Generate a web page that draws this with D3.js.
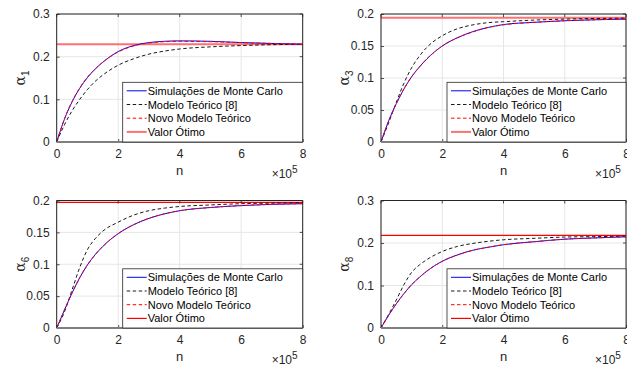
<!DOCTYPE html>
<html>
<head>
<meta charset="utf-8">
<script src="https://cdn.jsdelivr.net/npm/d3@7"></script>
<style>
  body { margin: 0; background: #fff; }
  svg { display: block; font-family: "Liberation Sans", Arial, Helvetica, sans-serif; }
</style>
</head>
<body>
<div id="chart"></div>
<script>
// n in units of 1e5
const nVals = [0, 0.25, 0.5, 0.75, 1, 1.25, 1.5, 2, 2.5, 3, 3.5, 4, 5, 6, 7, 8];

const seriesNames = ["Simulações de Monte Carlo", "Modelo Teórico [8]", "Novo Modelo Teórico", "Valor Ótimo"];
const xTicks = [0, 2, 4, 6, 8];

// alpha_1
const mc1 = [0, 0.053, 0.094, 0.126, 0.151, 0.171, 0.187, 0.212, 0.226, 0.233, 0.236, 0.237, 0.236, 0.233, 0.231, 0.229];
const mt1 = [0, 0.040, 0.073, 0.100, 0.123, 0.142, 0.157, 0.180, 0.195, 0.206, 0.213, 0.218, 0.223, 0.226, 0.228, 0.229];
const nm1 = [0, 0.054, 0.095, 0.127, 0.152, 0.171, 0.187, 0.211, 0.225, 0.232, 0.235, 0.236, 0.235, 0.233, 0.231, 0.229];
const opt1 = 0.229;

// alpha_3
const mc3 = [0, 0.033, 0.060, 0.083, 0.102, 0.117, 0.130, 0.150, 0.163, 0.1725, 0.179, 0.1835, 0.187, 0.1895, 0.191, 0.192];
const mt3 = [0, 0.030, 0.062, 0.092, 0.116, 0.134, 0.148, 0.166, 0.177, 0.183, 0.1865, 0.188, 0.1905, 0.192, 0.193, 0.1935];
const nm3 = [0, 0.033, 0.060, 0.083, 0.102, 0.117, 0.130, 0.150, 0.163, 0.172, 0.179, 0.183, 0.187, 0.1895, 0.191, 0.192];
const opt3 = 0.194;

// alpha_6
const mc6 = [0, 0.028, 0.055, 0.079, 0.099, 0.115, 0.128, 0.148, 0.162, 0.172, 0.179, 0.184, 0.189, 0.192, 0.194, 0.195];
const mt6 = [0, 0.025, 0.060, 0.095, 0.123, 0.140, 0.152, 0.166, 0.177, 0.184, 0.188, 0.1906, 0.193, 0.195, 0.1958, 0.1963];
const nm6 = [0, 0.028, 0.055, 0.079, 0.099, 0.115, 0.128, 0.148, 0.162, 0.172, 0.179, 0.184, 0.189, 0.192, 0.194, 0.195];
const opt6 = 0.197;

// alpha_8
const mc8 = [0, 0.030, 0.057, 0.081, 0.102, 0.119, 0.134, 0.157, 0.172, 0.183, 0.190, 0.196, 0.203, 0.209, 0.212, 0.2146];
const mt8 = [0, 0.032, 0.066, 0.102, 0.131, 0.148, 0.161, 0.180, 0.192, 0.199, 0.204, 0.2076, 0.211, 0.214, 0.215, 0.216];
const nm8 = [0, 0.030, 0.057, 0.081, 0.102, 0.119, 0.134, 0.157, 0.172, 0.183, 0.190, 0.196, 0.203, 0.209, 0.212, 0.2146];
const opt8 = 0.218;

const panels = [
  { sub: "1", x0: 56.7, y0: 14, w: 246, h: 128, yMax: 0.3, yTicks: [0, 0.1, 0.2, 0.3],
    mc: mc1, mt: mt1, nm: nm1, opt: opt1, optColor: "#ff7070", optWidth: 2 },
  { sub: "3", x0: 381, y0: 14, w: 245, h: 128, yMax: 0.2, yTicks: [0, 0.05, 0.1, 0.15, 0.2],
    mc: mc3, mt: mt3, nm: nm3, opt: opt3, optColor: "#ff7070", optWidth: 2 },
  { sub: "6", x0: 56.7, y0: 200.5, w: 246, h: 127.5, yMax: 0.2, yTicks: [0, 0.05, 0.1, 0.15, 0.2],
    mc: mc6, mt: mt6, nm: nm6, opt: opt6, optColor: "#ff0000", optWidth: 1.2 },
  { sub: "8", x0: 381, y0: 200.5, w: 245, h: 127.5, yMax: 0.3, yTicks: [0, 0.1, 0.2, 0.3],
    mc: mc8, mt: mt8, nm: nm8, opt: opt8, optColor: "#ff0000", optWidth: 1.2 }
];

const width = 627, height = 371;
const axisColor = "#262626";

const svg = d3.select("#chart").append("svg")
  .attr("width", width)
  .attr("height", height);

panels.forEach(p => {
  const x = d3.scaleLinear().domain([0, 8]).range([p.x0, p.x0 + p.w]);
  const y = d3.scaleLinear().domain([0, p.yMax]).range([p.y0 + p.h, p.y0]);
  const g = svg.append("g");

  // grid
  g.append("g").selectAll("line").data(xTicks).join("line")
    .attr("x1", d => x(d)).attr("x2", d => x(d))
    .attr("y1", p.y0).attr("y2", p.y0 + p.h)
    .attr("stroke", "#e6e6e6").attr("stroke-width", 1);
  g.append("g").selectAll("line").data(p.yTicks).join("line")
    .attr("x1", p.x0).attr("x2", p.x0 + p.w)
    .attr("y1", d => y(d)).attr("y2", d => y(d))
    .attr("stroke", "#e6e6e6").attr("stroke-width", 1);

  // curves
  const line = d3.line()
    .x((d, i) => x(nVals[i]))
    .y(d => y(d))
    .curve(d3.curveMonotoneX);

  g.append("line")
    .attr("x1", x(0)).attr("x2", x(8))
    .attr("y1", y(p.opt)).attr("y2", y(p.opt))
    .attr("stroke", p.optColor).attr("stroke-width", p.optWidth);
  g.append("path").datum(p.mt).attr("d", line)
    .attr("fill", "none").attr("stroke", "#000").attr("stroke-width", 0.9)
    .attr("stroke-dasharray", "3.5,2.5");
  g.append("path").datum(p.mc).attr("d", line)
    .attr("fill", "none").attr("stroke", "#0000ff").attr("stroke-width", 1);
  g.append("path").datum(p.nm).attr("d", line)
    .attr("fill", "none").attr("stroke", "#ff0000").attr("stroke-width", 1)
    .attr("stroke-dasharray", "3.5,2.5");

  // axes
  const xAxis = d3.axisBottom(x).tickValues(xTicks).tickSize(-3).tickPadding(7);
  const yAxis = d3.axisLeft(y).tickValues(p.yTicks).tickSize(-3).tickPadding(7)
    .tickFormat(d3.format("~g"));

  const gx = g.append("g").attr("transform", `translate(0,${p.y0 + p.h})`).call(xAxis);
  const gy = g.append("g").attr("transform", `translate(${p.x0},0)`).call(yAxis);
  [gx, gy].forEach(a => {
    a.select(".domain").remove();
    a.selectAll(".tick line").attr("stroke", axisColor).attr("stroke-width", 0.8);
    a.selectAll(".tick text").attr("fill", axisColor).attr("font-size", 12)
      .attr("font-family", "Liberation Sans, Arial, sans-serif");
  });

  // top and right ticks
  g.append("g").selectAll("line").data(xTicks).join("line")
    .attr("x1", d => x(d)).attr("x2", d => x(d))
    .attr("y1", p.y0).attr("y2", p.y0 + 3)
    .attr("stroke", axisColor).attr("stroke-width", 0.8);
  g.append("g").selectAll("line").data(p.yTicks).join("line")
    .attr("x1", p.x0 + p.w).attr("x2", p.x0 + p.w - 3)
    .attr("y1", d => y(d)).attr("y2", d => y(d))
    .attr("stroke", axisColor).attr("stroke-width", 0.8);

  // box
  g.append("path")
    .attr("d", `M${p.x0},${p.y0 + p.h}V${p.y0}H${p.x0 + p.w}V${p.y0 + p.h}`)
    .attr("fill", "none").attr("stroke", axisColor).attr("stroke-width", 1);
  g.append("line")
    .attr("x1", p.x0).attr("x2", p.x0 + p.w)
    .attr("y1", p.y0 + p.h).attr("y2", p.y0 + p.h)
    .attr("stroke", "#7f7f7f").attr("stroke-width", 1.8);

  // labels
  g.append("text")
    .attr("x", p.x0 + p.w / 2).attr("y", p.y0 + p.h + 33)
    .attr("text-anchor", "middle").attr("font-size", 13).attr("fill", axisColor)
    .text("n");
  const mult = g.append("text")
    .attr("x", p.x0 + p.w - 31).attr("y", p.y0 + p.h + 36)
    .attr("font-size", 12).attr("fill", axisColor);
  mult.append("tspan").text("×10");
  mult.append("tspan").attr("dy", -5).attr("font-size", 10).text("5");

  const yl = g.append("text")
    .attr("transform", `translate(${p.x0 - 32},${p.y0 + p.h / 2}) rotate(-90)`)
    .attr("text-anchor", "middle").attr("fill", axisColor);
  yl.append("tspan").attr("font-size", 14).attr("font-family", "DejaVu Serif, serif").text("α");
  yl.append("tspan").attr("font-size", 10).attr("dy", 4).text(p.sub);

  // legend
  const lx = p.x0 + 66, ly = p.y0 + 68.3;
  const lg = g.append("g");
  lg.append("rect")
    .attr("x", lx).attr("y", ly)
    .attr("width", p.x0 + p.w - lx).attr("height", p.y0 + p.h - ly)
    .attr("fill", "#fff").attr("stroke", axisColor).attr("stroke-width", 0.8);
  const styles = [
    { c: "#0000ff", w: 1, dash: null },
    { c: "#000", w: 0.9, dash: "3.5,2.5" },
    { c: "#ff0000", w: 1, dash: "3.5,2.5" },
    { c: p.optColor, w: p.optWidth, dash: null }
  ];
  seriesNames.forEach((name, i) => {
    const cy = ly + 8.5 + i * 13.7;
    lg.append("line")
      .attr("x1", lx + 4).attr("x2", lx + 24)
      .attr("y1", cy).attr("y2", cy)
      .attr("stroke", styles[i].c).attr("stroke-width", styles[i].w)
      .attr("stroke-dasharray", styles[i].dash);
    lg.append("text")
      .attr("x", lx + 25).attr("y", cy + 4)
      .attr("font-size", 11).attr("fill", "#000")
      .text(name);
  });
});
</script>
</body>
</html>
